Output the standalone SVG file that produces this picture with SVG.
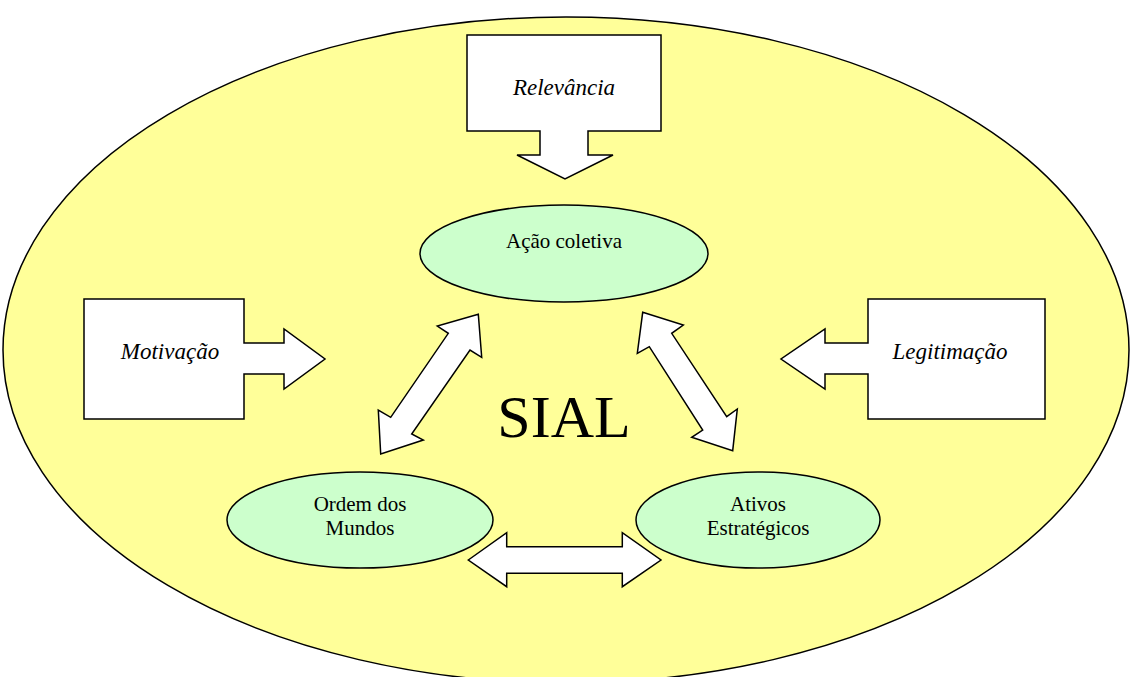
<svg xmlns="http://www.w3.org/2000/svg" width="1130" height="677" viewBox="0 0 1130 677">
<style>
.shape{fill:#fff;stroke:#000;stroke-width:1.5;stroke-linejoin:miter}
.node{fill:#CCFFCC;stroke:#000;stroke-width:1.5}
.lbl{font-family:"Liberation Serif","Times New Roman",serif;font-size:21px;fill:#000;text-anchor:middle}
.cal{font-family:"Liberation Serif","Times New Roman",serif;font-size:23px;font-style:italic;fill:#000;text-anchor:middle}
</style>
<rect width="1130" height="677" fill="#fff"/>
<g id="sial">
<ellipse cx="566" cy="350" rx="563" ry="333" fill="#FFFF99" stroke="#000" stroke-width="1.5"/>
<text x="564" y="437" font-family="'Liberation Serif','Times New Roman',serif" font-size="60" text-anchor="middle" fill="#000">SIAL</text>
</g>
<g id="relevancia">
<path class="shape" d="M467,35 H661 V131 H588 V155 H613 L565,179 L517,155 H540 V131 H467 Z"/>
<text class="cal" x="564" y="95">Relevância</text>
</g>
<g id="motivacao">
<path class="shape" d="M84,299 H244 V343 H284 V329 L325,359 L284,389 V374 H244 V419 H84 Z"/>
<text class="cal" x="170" y="359">Motivação</text>
</g>
<g id="legitimacao">
<path class="shape" d="M868,299 H1045 V419 H868 V374 H825 V389 L781,359 L825,329 V343 H868 Z"/>
<text class="cal" x="950" y="359">Legitimação</text>
</g>
<g id="acao">
<ellipse class="node" cx="564" cy="253.5" rx="144" ry="48.5"/>
<text class="lbl" x="564" y="248">Ação coletiva</text>
</g>
<g id="ordem">
<ellipse class="node" cx="360" cy="520" rx="133" ry="48"/>
<text class="lbl" x="360" y="511">Ordem dos</text>
<text class="lbl" x="360" y="535">Mundos</text>
</g>
<g id="ativos">
<ellipse class="node" cx="758" cy="520" rx="122" ry="48"/>
<text class="lbl" x="758" y="511">Ativos</text>
<text class="lbl" x="758" y="535">Estratégicos</text>
</g>
<g id="connectors">
<path class="shape" d="M478.3,314.3 L437.3,326 L448.3,333.3 L390.7,417.3 L378.3,410 L380.7,454 L423.3,440 L411.7,434 L470,350 L481.7,357.3 Z"/>
<path class="shape" d="M642.7,312.3 L683.3,325 L671.7,333.3 L726.7,416.7 L737.3,409 L732.7,450.7 L691.7,437.3 L702.7,430 L649.3,346.7 L637.3,353.3 Z"/>
<path class="shape" d="M468.3,560 L506.7,532.7 V546.7 H622.3 V532.7 L661,560 L622.3,586.7 V573.3 H506.7 V586.7 Z"/>
</g>
</svg>
